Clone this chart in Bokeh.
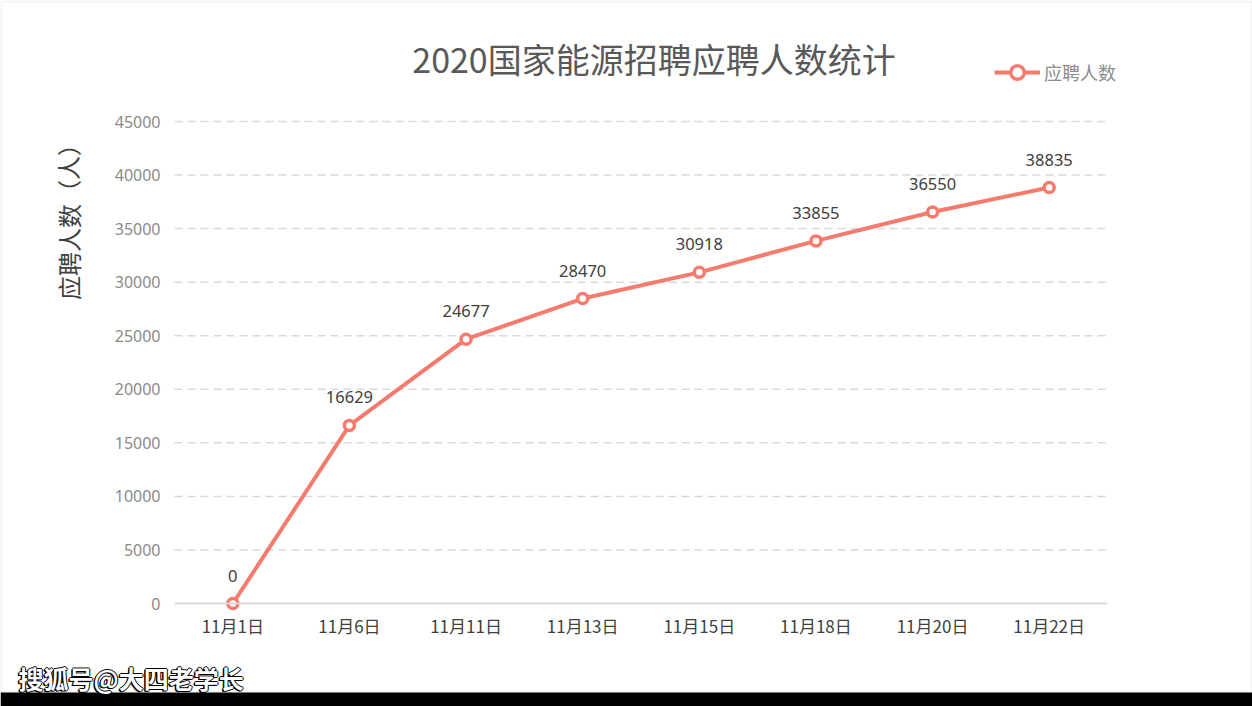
from bokeh.plotting import figure
from bokeh.models import Range1d, Label, FixedTicker, ColumnDataSource, BoxAnnotation, LinearAxis
from bokeh.core.properties import value
from bokeh.embed import file_html
from bokeh.resources import INLINE

dates = ["11月1日", "11月6日", "11月11日", "11月13日", "11月15日", "11月18日", "11月20日", "11月22日"]
applicants = [0, 16629, 24677, 28470, 30918, 33855, 36550, 38835]
y_ticks = [0, 5000, 10000, 15000, 20000, 25000, 30000, 35000, 40000, 45000]
title_text = "2020国家能源招聘应聘人数统计"
y_label_text = "应聘人数（人）"
series_name = "应聘人数"
watermark = "搜狐号@大四老学长"

W, H = 1252, 706
# plot area (pixels in the page) and its value span
PX_L, PX_R, PX_T, PX_B = 174, 1107, 121, 603
Y_MAX = 45000
N = len(dates)

xs = (PX_R - PX_L) / N          # px per category
ys = (PX_B - PX_T) / Y_MAX      # px per unit


def dx(px):
    return (px - PX_L) / xs


def dy(py):
    return (PX_B - py) / ys


LINE = "#F47B6D"
FONT = "Noto Sans CJK SC"

p = figure(width=W, height=H, x_range=Range1d(dx(0), dx(W)), y_range=Range1d(dy(H), dy(0)),
           output_backend="svg", toolbar_location=None, title=None,
           x_axis_location=None, y_axis_location=None, min_border=0)
p.outline_line_color = None
p.background_fill_color = "white"
p.border_fill_color = "white"
p.xgrid.grid_line_color = None
p.ygrid.grid_line_color = None

x_pos = [i + 0.5 for i in range(N)]

# x axis
xaxis = LinearAxis(fixed_location=0, bounds=(0, N))
xaxis.ticker = FixedTicker(ticks=x_pos)
xaxis.major_label_overrides = {x: d for x, d in zip(x_pos, dates)}
xaxis.axis_line_color = "#d9d9d9"
xaxis.axis_line_width = 2
xaxis.major_tick_line_color = None
xaxis.minor_tick_line_color = None
xaxis.major_tick_out = 0
xaxis.major_tick_in = 0
xaxis.major_label_text_font = FONT
xaxis.major_label_text_font_size = "17px"
xaxis.major_label_text_color = "#404040"
xaxis.major_label_standoff = 9
p.add_layout(xaxis, "below")

# y axis
yaxis = LinearAxis(fixed_location=0)
yaxis.ticker = FixedTicker(ticks=y_ticks)
yaxis.axis_line_color = None
yaxis.major_tick_line_color = None
yaxis.minor_tick_line_color = None
yaxis.major_tick_out = 0
yaxis.major_tick_in = 0
yaxis.major_label_text_font = "Noto Sans"
yaxis.major_label_text_font_size = "16px"
yaxis.major_label_text_color = "#8a8a8a"
yaxis.major_label_standoff = 14
p.add_layout(yaxis, "left")

# dashed grid lines across the plot area
grid_y = y_ticks[1:]
p.segment(x0=[0] * len(grid_y), x1=[N] * len(grid_y), y0=grid_y, y1=grid_y,
          line_color="#d9d9d9", line_width=1.5, line_dash="8 5")

src = ColumnDataSource(dict(x=x_pos, y=applicants, t=[str(v) for v in applicants]))
p.line("x", "y", source=src, line_color=LINE, line_width=4, legend_label=series_name)
p.scatter("x", "y", source=src, marker="circle", size=10, fill_color="white",
          line_color=LINE, line_width=3.5, legend_label=series_name)
p.text("x", "y", text="t", source=src, text_align="center", text_baseline="middle",
       y_offset=-28, text_font=value("Noto Sans"), text_font_size="16.5px", text_color="#404040")

leg = p.legend[0]
leg.location = (994, H - 89)
leg.glyph_width = 46
leg.glyph_height = 34
leg.label_text_font = FONT
leg.label_text_font_size = "18px"
leg.label_text_color = "#8c8c8c"
leg.border_line_color = None
leg.background_fill_alpha = 0
leg.padding = 0
leg.margin = 0
leg.label_standoff = 4

# title
p.add_layout(Label(x=dx(653.5), y=dy(58), text=title_text, text_align="center", text_baseline="middle",
                   text_font=FONT, text_font_size="34px", text_color="#595959"))
# y axis label
p.add_layout(Label(x=dx(67.5), y=dy(215.5), text=y_label_text, angle=1.5708, text_align="center",
                   text_baseline="middle", text_font=FONT, text_font_size="24px",
                   text_font_style="normal", text_color="#404040"))

# outer light border and bottom black strip
p.add_layout(BoxAnnotation(left=dx(1), right=dx(W - 1), top=dy(1), bottom=dy(691), fill_alpha=0,
                           line_color="#d9d9d9", line_width=2))
p.add_layout(BoxAnnotation(top=dy(692), fill_color="black", fill_alpha=1, line_color=None))

# watermark (white text with a dark outline)
for ox, oy in [(-1, 0), (1, 0), (0, -1), (0, 1), (-1.5, -1)]:
    p.add_layout(Label(x=dx(18), y=dy(677.5), x_offset=ox, y_offset=oy, text=watermark, text_align="left",
                       text_baseline="middle", text_font=FONT, text_font_size="25px",
                       text_font_style="bold", text_color="black"))
p.add_layout(Label(x=dx(18), y=dy(677.5), text=watermark, text_align="left", text_baseline="middle",
                   text_font=FONT, text_font_size="25px", text_font_style="bold", text_color="white"))

open("out.html", "w").write(file_html(p, INLINE))
